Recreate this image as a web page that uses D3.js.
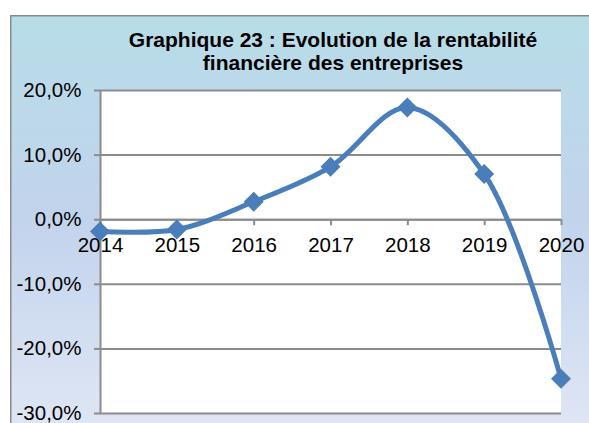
<!DOCTYPE html>
<html>
<head>
<meta charset="utf-8">
<script src="https://cdn.jsdelivr.net/npm/d3@7"></script>
<style>
  html, body { margin: 0; padding: 0; background: #ffffff; }
  svg { display: block; }
</style>
</head>
<body>
<svg id="chart" width="589" height="423"></svg>
<script>
// ---- data ----
const years = ["2014", "2015", "2016", "2017", "2018", "2019", "2020"];
const rentabilite = [-1.9, -1.6, 2.7, 8.1, 17.3, 7.0, -24.7];
const yTicks = [-30, -20, -10, 0, 10, 20];
const titleLines = ["Graphique 23 : Evolution de la rentabilité", "financière des entreprises"];

// ---- layout ----
const svg = d3.select("#chart");
const plot = { left: 100, right: 561, top: 90, bottom: 413 };
const font = "'Liberation Sans', Arial, sans-serif";

const defs = svg.append("defs");
const grad = defs.append("linearGradient").attr("id", "bg").attr("x1", 0).attr("y1", 0).attr("x2", 0).attr("y2", 1);
grad.append("stop").attr("offset", "0%").attr("stop-color", "#b7dde8");
grad.append("stop").attr("offset", "48%").attr("stop-color", "#c2d3ec");
grad.append("stop").attr("offset", "100%").attr("stop-color", "#e0e7f5");

// chart frame
svg.append("rect")
  .attr("x", 10.75).attr("y", 15.75)
  .attr("width", 645).attr("height", 420)
  .attr("fill", "url(#bg)")
  .attr("stroke", "#8a8a8a").attr("stroke-width", 1.5);

// plot area
svg.append("rect")
  .attr("x", plot.left).attr("y", plot.top)
  .attr("width", plot.right - plot.left).attr("height", plot.bottom - plot.top)
  .attr("fill", "#ffffff");

// scales
const x = d3.scalePoint().domain(years).range([plot.left, plot.right]);
const y = d3.scaleLinear().domain([-30, 20]).range([plot.bottom, plot.top]);

const loc = d3.formatLocale({ decimal: ",", thousands: " ", grouping: [3], currency: ["", "€"], minus: "-" });
const fmt = v => loc.format(".1f")(v) + "%";

// gridlines
const grid = svg.append("g")
  .attr("transform", `translate(${plot.left},0)`)
  .call(d3.axisLeft(y).tickValues(yTicks).tickSize(-(plot.right - plot.left)).tickFormat(""));
grid.select(".domain").remove();
grid.selectAll("line").attr("stroke", "#8c8c8c").attr("stroke-width", 2);

// y axis
const yAxis = svg.append("g")
  .attr("transform", `translate(${plot.left},0)`)
  .call(d3.axisLeft(y).tickValues(yTicks).tickSizeInner(6).tickSizeOuter(0).tickPadding(12.5).tickFormat(fmt));
yAxis.select(".domain").attr("stroke", "#8c8c8c").attr("stroke-width", 2);
yAxis.selectAll("line").attr("stroke", "#8c8c8c").attr("stroke-width", 2);
yAxis.selectAll("text").attr("fill", "#000").style("font-family", font).style("font-size", "20.5px");

// x axis at 0
const xAxis = svg.append("g")
  .attr("transform", `translate(0,${y(0)})`)
  .call(d3.axisBottom(x).tickSizeInner(6).tickSizeOuter(0).tickPadding(12));
xAxis.select(".domain").attr("stroke", "#8c8c8c").attr("stroke-width", 2);
xAxis.selectAll("line").attr("stroke", "#8c8c8c").attr("stroke-width", 2);
xAxis.selectAll("text").attr("fill", "#000").style("font-family", font).style("font-size", "20.5px");

// line
const pts = years.map((yr, i) => [x(yr), y(rentabilite[i])]);
svg.append("path")
  .attr("d", d3.line().curve(d3.curveCatmullRom.alpha(0.5))(pts))
  .attr("fill", "none")
  .attr("stroke", "#4a7ebb")
  .attr("stroke-width", 5)
  .attr("stroke-linejoin", "round");

// markers
const diamond = d3.symbol().type(d3.symbolSquare).size(200);
svg.selectAll(".mk").data(years).join("path")
  .attr("class", "mk")
  .attr("d", diamond)
  .attr("transform", (d, i) => `translate(${x(d)},${y(rentabilite[i])}) rotate(45)`)
  .attr("fill", "#4a7ebb");

// title
svg.append("text")
  .attr("x", 333).attr("y", 46.5)
  .attr("text-anchor", "middle")
  .style("font-family", font).style("font-weight", "bold").style("font-size", "21px")
  .attr("fill", "#000")
  .selectAll("tspan").data(titleLines).join("tspan")
  .attr("x", 333).attr("dy", (d, i) => i === 0 ? 0 : 23.5)
  .text(d => d);
</script>
</body>
</html>
